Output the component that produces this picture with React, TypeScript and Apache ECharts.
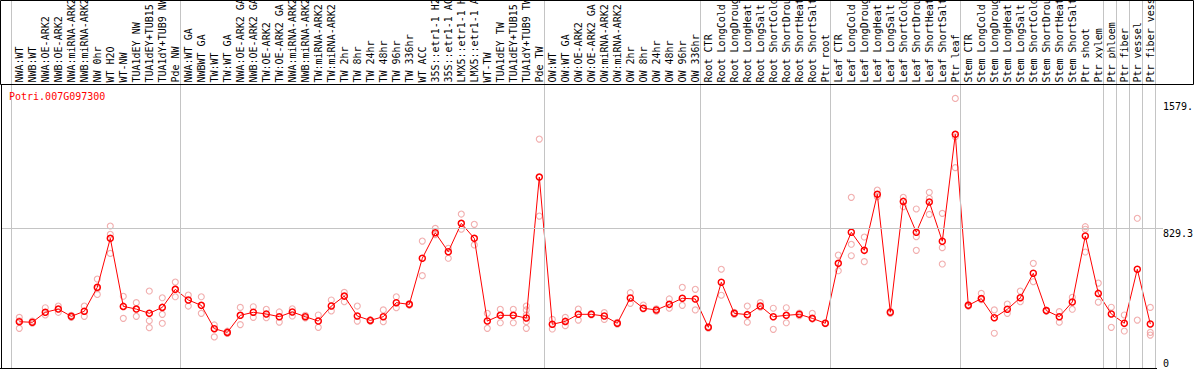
import React, { useEffect, useRef } from 'react';
import * as echarts from 'echarts';

const title = 'Potri.007G097300';

const categories = [
  'NWA:WT', 'NWB:WT', 'NWA:OE-ARK2', 'NWB:OE-ARK2', 'NWA:miRNA-ARK2', 'NWB:miRNA-ARK2',
  'NW 0hr', 'WT H2O', 'WT-NW', 'TUA1dEY NW', 'TUA1dEY+TUB15 NW', 'TUA1dY+TUB9 NW', 'Pde NW',
  'NWA:WT GA', 'NWBWT GA', 'TW:WT', 'TW:WT GA', 'NWA:OE-ARK2 GA', 'NWB:OE-ARK2 GA',
  'TW:OE-ARK2', 'TW:OE-ARK2 GA', 'NWA:miRNA-ARK2 GA', 'NWB:miRNA-ARK2 GA', 'TW:miRNA-ARK2',
  'TW:miRNA-ARK2 GA', 'TW 2hr', 'TW 8hr', 'TW 24hr', 'TW 48hr', 'TW 96hr', 'TW 336hr',
  'WT ACC', '35S::etr1-1 H2O', '35S::etr1-1 ACC', 'LMX5::etr1-1 H2O', 'LMX5::etr1-1 ACC',
  'WT-TW', 'TUA1dEY TW', 'TUA1dEY+TUB15 TW', 'TUA1dY+TUB9 TW', 'Pde TW',
  'OW:WT', 'OW:WT GA', 'OW:OE-ARK2', 'OW:OE-ARK2 GA', 'OW:miRNA-ARK2', 'OW:miRNA-ARK2 GA',
  'OW 2hr', 'OW 8hr', 'OW 24hr', 'OW 48hr', 'OW 96hr', 'OW 336hr',
  'Root CTR', 'Root LongCold', 'Root LongDrought', 'Root LongHeat', 'Root LongSalt',
  'Root ShortCold', 'Root ShortDrought', 'Root ShortHeat', 'Root ShortSalt', 'Ptr root',
  'Leaf CTR', 'Leaf LongCold', 'Leaf LongDrought', 'Leaf LongHeat', 'Leaf LongSalt',
  'Leaf ShortCold', 'Leaf ShortDrought', 'Leaf ShortHeat', 'Leaf ShortSalt', 'Ptr leaf',
  'Stem CTR', 'Stem LongCold', 'Stem LongDrought', 'Stem LongHeat', 'Stem LongSalt',
  'Stem ShortCold', 'Stem ShortDrought', 'Stem ShortHeat', 'Stem ShortSalt', 'Ptr shoot',
  'Ptr xylem', 'Ptr phloem', 'Ptr fiber', 'Ptr vessel', 'Ptr fiber vessel',
];

const means = [
  274, 271, 330, 349, 306, 336, 478, 768, 365, 349, 324, 359, 466,
  403, 371, 233, 211, 312, 330, 320, 304, 332, 304, 278, 367, 426, 308, 282, 304, 387, 377,
  650, 801, 689, 857, 768, 278, 312, 312, 296, 1131,
  259, 276, 318, 318, 308, 265, 415, 354, 344, 377, 413, 409,
  241, 508, 324, 316, 367, 304, 312, 318, 294, 265,
  620, 804, 697, 1029, 330, 987, 804, 983, 751, 1384,
  371, 411, 298, 348, 416, 561, 340, 304, 391, 782,
  442, 320, 265, 585, 261,
];

const replicates = [
  [300, 235, 280], [265, 278], [357, 314], [367, 330], [300, 312], [367, 306],
  [527, 436, 470], [841, 792, 679], [425, 294], [387, 306], [456, 280, 239], [416, 318, 265],
  [509, 422], [432, 367], [422, 324], [255, 184], [205, 218], [359, 257], [363, 300],
  [348, 298], [332, 272], [351, 308], [296, 312], [314, 241], [403, 338], [448, 393],
  [367, 278], [278, 286], [344, 274], [422, 357], [372, 382], [752, 547], [827, 790],
  [709, 650], [912, 822], [851, 729], [324, 235], [348, 268], [348, 268],
  [367, 344, 314, 274, 235], [1356, 900], [288, 231], [300, 251], [349, 284], [322, 314],
  [328, 288], [270, 260], [446, 383], [373, 350], [350, 336], [409, 354], [478, 371],
  [466, 344], [246, 236], [585, 431], [330, 318], [367, 271], [387, 360], [354, 229],
  [357, 268], [325, 310], [324, 290], [268, 262], [669, 576], [1011, 733, 665], [776, 630],
  [1054, 1015], [336, 324], [1011, 956], [942, 778, 697], [1041, 1005, 910], [916, 713, 616],
  [1597, 1370, 1187], [376, 366], [442, 405], [344, 206], [379, 324], [456, 393], [620, 511],
  [343, 337], [334, 271], [419, 348], [837, 822, 687], [503, 390], [360, 241], [314, 219],
  [887, 284], [359, 211, 195],
];

// index of the first category of each group (the last entry closes the final group)
const groupStarts = [0, 13, 41, 53, 63, 73, 84, 85, 86, 87, 88];

const refLineValue = 829.3;
const yTickValues = [0, 829.3, 1579.4];
const yTickLabels = ['0', '829.3', '1579.'];

// layout
const W = 1194;
const FIRST_X = 19.3;
const STEP = 13;
const PLOT_LEFT = 2;
const PLOT_RIGHT_X = 1163;
const PLOT_BOTTOM_Y = 368;
const Y_MAX_PX_VALUE = 2180; // value at top of canvas (y=0)
const FONT = 'DejaVu Sans Mono';

export default function App() {
  const ref = useRef<HTMLDivElement>(null);

  useEffect(() => {
    const chart = echarts.init(ref.current!, null, { renderer: 'svg' });

    const xMin = -(FIRST_X - PLOT_LEFT) / STEP;
    const xMax = xMin + (PLOT_RIGHT_X - PLOT_LEFT) / STEP;
    const catLeft = FIRST_X - STEP / 2;
    const catRight = W - (catLeft + categories.length * STEP);

    const repData: number[][] = [];
    replicates.forEach((arr, i) => arr.forEach((v) => repData.push([i, v])));
    const meanData = means.map((v, i) => [i, v]);

    const labelFor = (v: number) => {
      const k = yTickValues.findIndex((t) => Math.abs(t - v) < 1e-6);
      return k >= 0 ? yTickLabels[k] : '';
    };

    const sepLines = groupStarts.map((g) => ({ xAxis: g - 0.64 }));

    const option: any = {
      animation: false,
      title: {
        text: title,
        left: 9,
        top: 91,
        padding: 0,
        textStyle: { fontFamily: FONT, fontSize: 10, fontWeight: 'normal', color: '#ff0000' },
      },
      grid: [
        {
          left: PLOT_LEFT, right: W - PLOT_RIGHT_X, top: 0, bottom: 370 - PLOT_BOTTOM_Y,
          containLabel: false, outerBoundsMode: 'none',
        },
        {
          left: catLeft, right: catRight, top: 84.5, bottom: 370 - PLOT_BOTTOM_Y,
          containLabel: false, outerBoundsMode: 'none',
        },
      ],
      xAxis: [
        { gridIndex: 0, type: 'value', min: xMin, max: xMax, show: false },
        {
          gridIndex: 1, type: 'category', data: categories, position: 'top', boundaryGap: true,
          axisLine: { show: false }, axisTick: { show: false }, splitLine: { show: false },
          axisLabel: {
            interval: 0, rotate: 90, margin: 2, fontFamily: FONT, fontSize: 10, color: '#000',
          },
        },
      ],
      yAxis: [
        {
          gridIndex: 0, type: 'value', min: 0, max: Y_MAX_PX_VALUE, position: 'right',
          axisLine: { show: false }, axisTick: { show: false }, splitLine: { show: false },
          axisLabel: {
            customValues: yTickValues.slice(1), formatter: labelFor, margin: 0,
            verticalAlign: 'top', fontFamily: FONT, fontSize: 10, color: '#000',
          },
        },
        {
          gridIndex: 0, type: 'value', min: 0, max: Y_MAX_PX_VALUE, position: 'right',
          axisLine: { show: false }, axisTick: { show: false }, splitLine: { show: false },
          axisLabel: {
            customValues: [yTickValues[0]], formatter: labelFor, margin: 0,
            verticalAlign: 'bottom', fontFamily: FONT, fontSize: 10, color: '#000',
          },
        },
        { gridIndex: 1, type: 'value', show: false },
      ],
      series: [
        {
          type: 'line', xAxisIndex: 0, yAxisIndex: 0, data: [], z: 0, silent: true,
          markLine: {
            silent: true, symbol: ['none', 'none'], label: { show: false },
            lineStyle: { color: '#c4c4c4', width: 1, type: 'solid' },
            data: [...sepLines, { yAxis: refLineValue }],
          },
        },
        {
          type: 'scatter', xAxisIndex: 0, yAxisIndex: 0, data: repData, z: 2,
          symbol: 'circle', symbolSize: 6,
          itemStyle: { color: 'rgba(0,0,0,0)', borderColor: '#ee9a9a', borderWidth: 1.1 },
        },
        {
          type: 'line', xAxisIndex: 0, yAxisIndex: 0, data: meanData, z: 3,
          symbol: 'circle', symbolSize: 6, showSymbol: true,
          lineStyle: { color: '#ff0000', width: 1 },
          itemStyle: { color: 'rgba(0,0,0,0)', borderColor: '#ff0000', borderWidth: 1.5 },
        },
      ],
      graphic: [
        {
          type: 'rect', silent: true, z: 100,
          shape: { x: 0.5, y: 0.5, width: 1193, height: 84 },
          style: { fill: 'none', stroke: '#000', lineWidth: 1 },
        },
        {
          type: 'line', silent: true, z: 100,
          shape: { x1: 1.5, y1: 84.5, x2: 1.5, y2: 368.5 },
          style: { stroke: '#000', lineWidth: 1 },
        },
        {
          type: 'line', silent: true, z: 100,
          shape: { x1: 0, y1: 368.5, x2: 1157, y2: 368.5 },
          style: { stroke: '#000', lineWidth: 1 },
        },
      ],
    };

    chart.setOption(option);
    return () => chart.dispose();
  }, []);

  return (
    <div
      ref={ref}
      style={{ position: 'fixed', left: 0, top: 0, width: W, height: 370, background: '#fff' }}
    />
  );
}
